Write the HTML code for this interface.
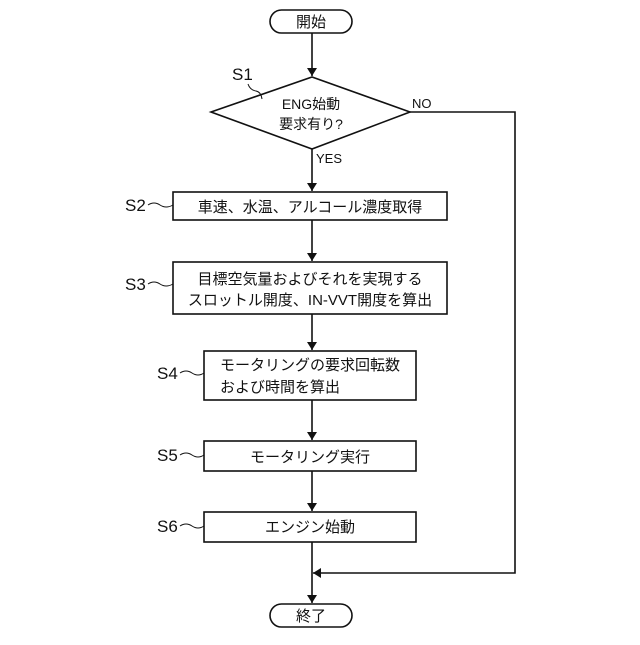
<!DOCTYPE html>
<html><head><meta charset="utf-8"><style>
body{margin:0;background:#fff}
text{font-family:"Liberation Sans","Noto Sans CJK JP",sans-serif;fill:#111}
</style></head><body>
<svg width="640" height="640" viewBox="0 0 640 640" xmlns="http://www.w3.org/2000/svg">
<defs><marker id="a" markerWidth="8" markerHeight="10" refX="8" refY="5" orient="auto" markerUnits="userSpaceOnUse"><path d="M0,0L8,5L0,10z" fill="#111"/></marker></defs>
<g stroke="#111" stroke-width="1.6" fill="none">
<rect x="270" y="10" width="82" height="23" rx="11.5"/>
<polygon points="211,112 312,77 410,112 312,149"/>
<rect x="173" y="192" width="274" height="28"/>
<rect x="173" y="262" width="274" height="52"/>
<rect x="204" y="351" width="212" height="49"/>
<rect x="204" y="441" width="212" height="30"/>
<rect x="204" y="512" width="212" height="30"/>
<rect x="270" y="604" width="82" height="23" rx="11.5"/>
<line x1="312" y1="33" x2="312" y2="76" marker-end="url(#a)"/>
<line x1="312" y1="149" x2="312" y2="191" marker-end="url(#a)"/>
<line x1="312" y1="220" x2="312" y2="261" marker-end="url(#a)"/>
<line x1="312" y1="314" x2="312" y2="350" marker-end="url(#a)"/>
<line x1="312" y1="400" x2="312" y2="440" marker-end="url(#a)"/>
<line x1="312" y1="471" x2="312" y2="511" marker-end="url(#a)"/>
<line x1="312" y1="542" x2="312" y2="603" marker-end="url(#a)"/>
<polyline points="410,112 515,112 515,573 313,573" marker-end="url(#a)"/>
<path d="M248,84 q2,6 8,7 q5,1 6,8" stroke-width="1"/>
<path d="M148,205 q6,-4 12,0 q6,4 13,0" stroke-width="1"/>
<path d="M148,284 q6,-4 12,0 q6,4 13,0" stroke-width="1"/>
<path d="M180,373 q6,-4 12,0 q6,4 12,0" stroke-width="1"/>
<path d="M180,455 q6,-4 12,0 q6,4 12,0" stroke-width="1"/>
<path d="M180,526 q6,-4 12,0 q6,4 12,0" stroke-width="1"/>
</g>
<g font-size="15" text-anchor="middle">
<text x="311" y="27">開始</text>
<text x="311" y="109" font-size="14">ENG始動</text>
<text x="311" y="129" font-size="14">要求有り?</text>
<text x="310" y="212">車速、水温、アルコール濃度取得</text>
<text x="310" y="284">目標空気量およびそれを実現する</text>
<text x="310" y="305">スロットル開度、IN-VVT開度を算出</text>
<text x="311" y="592" font-size="15"></text>
<text x="311" y="621">終了</text>
<text x="310" y="462">モータリング実行</text>
<text x="310" y="532">エンジン始動</text>
</g>
<g font-size="15">
<text x="220" y="370">モータリングの要求回転数</text>
<text x="220" y="392">および時間を算出</text>
<text x="316" y="163" font-size="13">YES</text>
<text x="412" y="108" font-size="13">NO</text>
<text x="232" y="80" font-size="17">S1</text>
<text x="125" y="211" font-size="17">S2</text>
<text x="125" y="290" font-size="17">S3</text>
<text x="157" y="379" font-size="17">S4</text>
<text x="157" y="461" font-size="17">S5</text>
<text x="157" y="532" font-size="17">S6</text>
</g>
</svg>
</body></html>
